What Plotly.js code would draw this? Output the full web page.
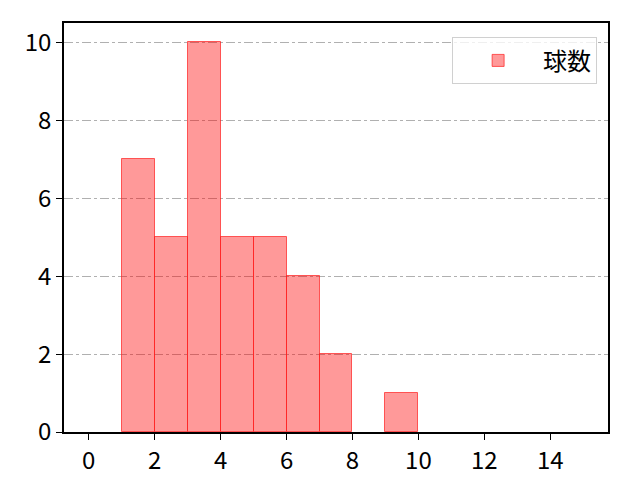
<!DOCTYPE html>
<html>
<head>
<meta charset="utf-8">
<script src="https://cdn.plot.ly/plotly-3.0.1.min.js"></script>
<style>body{margin:0;background:#fff}</style>
</head>
<body>
<div id="chart" style="width:640px;height:480px"></div>
<script>
// histogram bins (width 1) and counts
const binStarts = [1, 2, 3, 4, 5, 6, 7, 8, 9];
const counts = [7, 5, 10, 5, 5, 4, 2, 0, 1];
const seriesName = '球数';
const xTicks = [0, 2, 4, 6, 8, 10, 12, 14];
const yTicks = [0, 2, 4, 6, 8, 10];

const centers = binStarts.map(s => s + 0.5);
// empty bins get no outline
const edgeWidths = counts.map(c => c > 0 ? 1 : 0);

const trace = {
  x: centers,
  y: counts,
  width: 1,
  type: 'bar',
  name: seriesName,
  showlegend: true,
  marker: {
    color: 'rgba(255,0,0,0.4)',
    line: {color: 'rgba(255,30,30,0.7)', width: edgeWidths}
  }
};

const fam = 'Noto Sans CJK JP, DejaVu Sans, sans-serif';
const tickFont = {family: fam, size: 24, color: '#000'};

const layout = {
  width: 640,
  height: 480,
  margin: {l: 64, r: 32, t: 23, b: 48},
  paper_bgcolor: '#fff',
  plot_bgcolor: '#fff',
  font: {family: fam, size: 24, color: '#000'},
  bargap: 0,
  xaxis: {
    range: [-0.75, 15.75],
    tickvals: xTicks,
    tickfont: tickFont,
    ticks: 'outside',
    ticklen: 6,
    tickwidth: 1.3,
    tickcolor: '#000',
    showline: true,
    linecolor: '#000',
    linewidth: 1.5,
    mirror: true,
    showgrid: false,
    zeroline: false
  },
  yaxis: {
    range: [0, 10.5],
    tickvals: yTicks,
    tickfont: tickFont,
    ticks: 'outside',
    ticklen: 6,
    tickwidth: 1.3,
    tickcolor: '#000',
    showline: true,
    linecolor: '#000',
    linewidth: 1.5,
    mirror: true,
    showgrid: true,
    gridcolor: '#b0b0b0',
    griddash: 'dashdot',
    gridwidth: 1,
    zeroline: false
  },
  showlegend: true,
  legend: {
    x: 0.98,
    y: 0.965,
    xanchor: 'right',
    yanchor: 'top',
    bgcolor: 'rgba(255,255,255,0.8)',
    bordercolor: '#d0d0d0',
    borderwidth: 1,
    itemwidth: 80,
    font: {family: fam, size: 24, color: '#000'}
  }
};

Plotly.newPlot('chart', [trace], layout, {displayModeBar: false});
</script>
</body>
</html>
